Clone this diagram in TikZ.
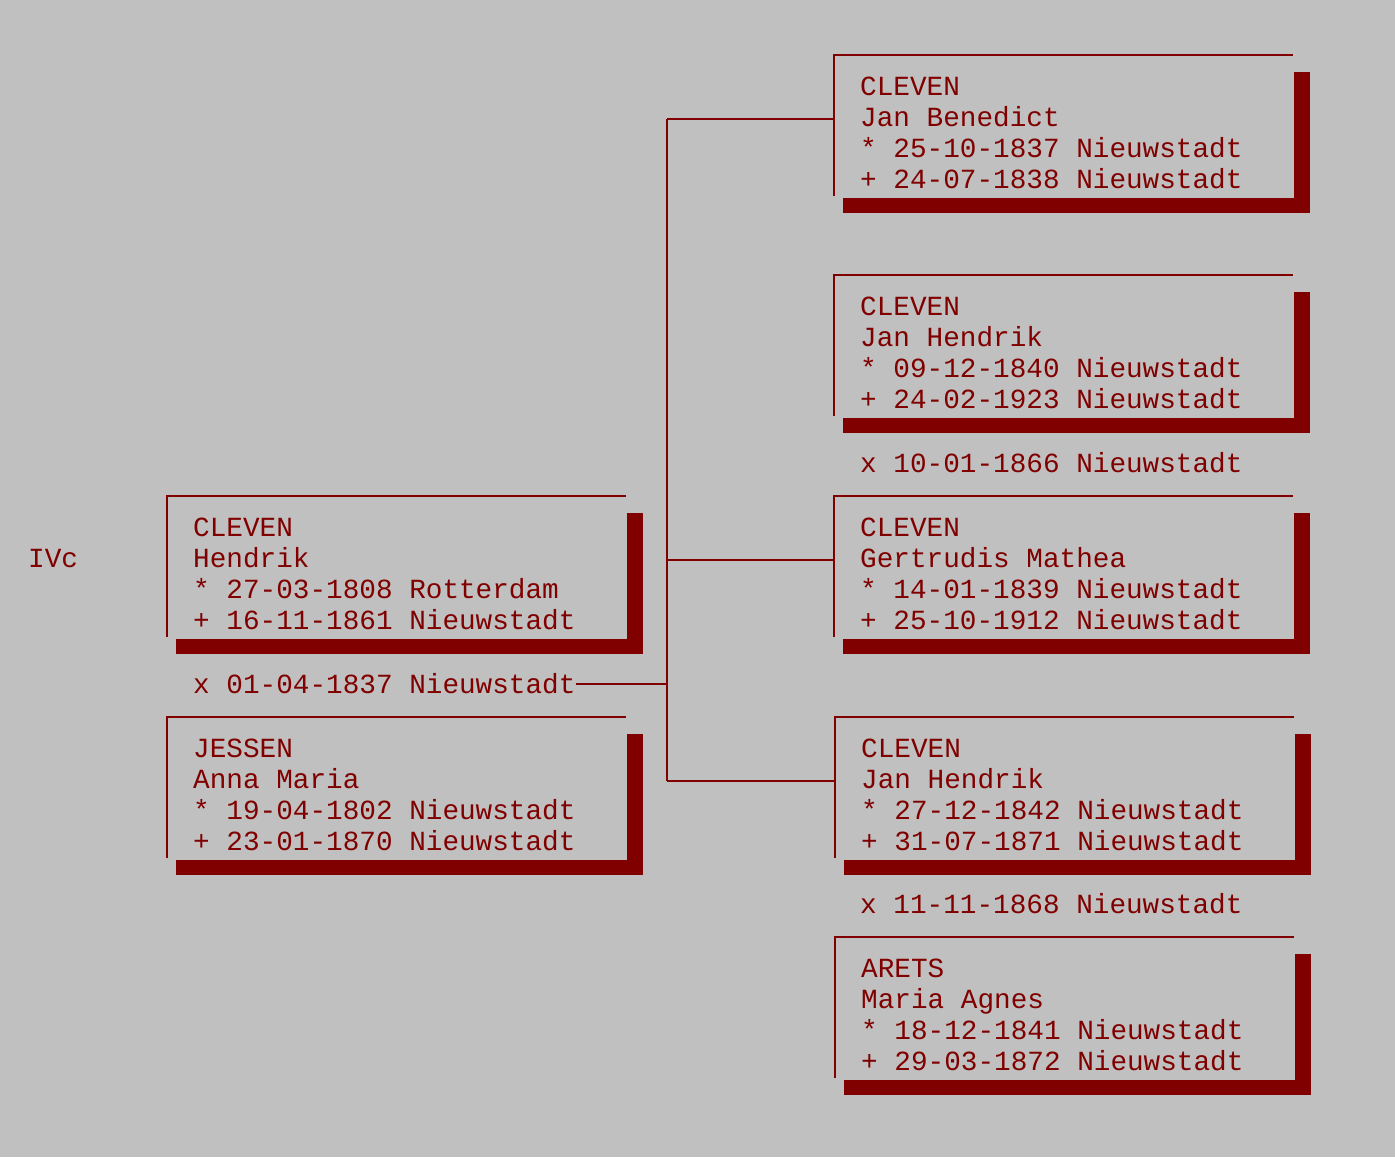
\documentclass[tikz,border=0pt]{standalone}
\usepackage{fontspec}
\setmonofont{Liberation Mono}
\usetikzlibrary{calc}
\definecolor{bg}{HTML}{C0C0C0}
\definecolor{mar}{HTML}{800000}
\tikzset{
  x=1pt, y=1pt,
  boxshape/.style={rectangle, inner sep=0pt, minimum width=459pt, minimum height=141pt, anchor=north west},
  frameline/.style={draw=mar, line width=2pt},
  txt/.style={font=\ttfamily\fontsize{27.7}{31.3}\selectfont, text=mar, inner sep=0pt, anchor=base west},
  shadow/.style={fill=mar}
}
\newcommand{\personbox}[7]{%
  \node[boxshape] (#1) at (#2,-#3) {};
  \draw[frameline] (#1.south west) -- (#1.north west) -- (#1.north east);
  \fill[shadow] ($(#1.north east)+(1,-17)$) rectangle ($(#1.south east)+(17,-17)$);
  \fill[shadow] ($(#1.south west)+(9,-2)$) rectangle ($(#1.south east)+(17,-17)$);
  \node[txt] (#1-a) at ($(#1.north west)+(26,-40)$) {#4};
  \node[txt] (#1-b) at ($(#1.north west)+(26,-71.3)$) {#5};
  \node[txt] (#1-c) at ($(#1.north west)+(26,-102.6)$) {#6};
  \node[txt] (#1-d) at ($(#1.north west)+(26,-133.9)$) {#7};
  \coordinate (#1-in) at ($(#1.north west)+(0,-64)$);
}
\begin{document}
\begin{tikzpicture}
\fill[bg] (0,0) rectangle (1395,-1157);
\useasboundingbox (0,0) rectangle (1395,-1157);

\node[txt] (gen) at (28,-567.5) {IVc};

\personbox{p1}{167}{496}{CLEVEN}{Hendrik}{* 27-03-1808 Rotterdam}{+ 16-11-1861 Nieuwstadt}
\node[txt] (m1) at (193,-693.5) {x 01-04-1837 Nieuwstadt};
\personbox{p2}{167}{717}{JESSEN}{Anna Maria}{* 19-04-1802 Nieuwstadt}{+ 23-01-1870 Nieuwstadt}

\personbox{c1}{834}{55}{CLEVEN}{Jan Benedict}{* 25-10-1837 Nieuwstadt}{+ 24-07-1838 Nieuwstadt}
\personbox{c2}{834}{275}{CLEVEN}{Jan Hendrik}{* 09-12-1840 Nieuwstadt}{+ 24-02-1923 Nieuwstadt}
\node[txt] (m2) at (860,-472.5) {x 10-01-1866 Nieuwstadt};
\personbox{c3}{834}{496}{CLEVEN}{Gertrudis Mathea}{* 14-01-1839 Nieuwstadt}{+ 25-10-1912 Nieuwstadt}
\personbox{c4}{835}{717}{CLEVEN}{Jan Hendrik}{* 27-12-1842 Nieuwstadt}{+ 31-07-1871 Nieuwstadt}
\node[txt] (m3) at (860,-913.5) {x 11-11-1868 Nieuwstadt};
\personbox{c5}{835}{937}{ARETS}{Maria Agnes}{* 18-12-1841 Nieuwstadt}{+ 29-03-1872 Nieuwstadt}

\coordinate (spine) at (667,0);
\coordinate (st) at (spine |- c1-in);
\coordinate (sb) at (spine |- c4-in);
\draw[frameline] (st) -- (sb);
\draw[frameline] (c1-in) -- (st);
\draw[frameline] (c3-in) -- (spine |- c3-in);
\draw[frameline] (c4-in) -- (sb);
\draw[frameline] (m1.east) -- (m1.east -| spine);
\end{tikzpicture}
\end{document}
